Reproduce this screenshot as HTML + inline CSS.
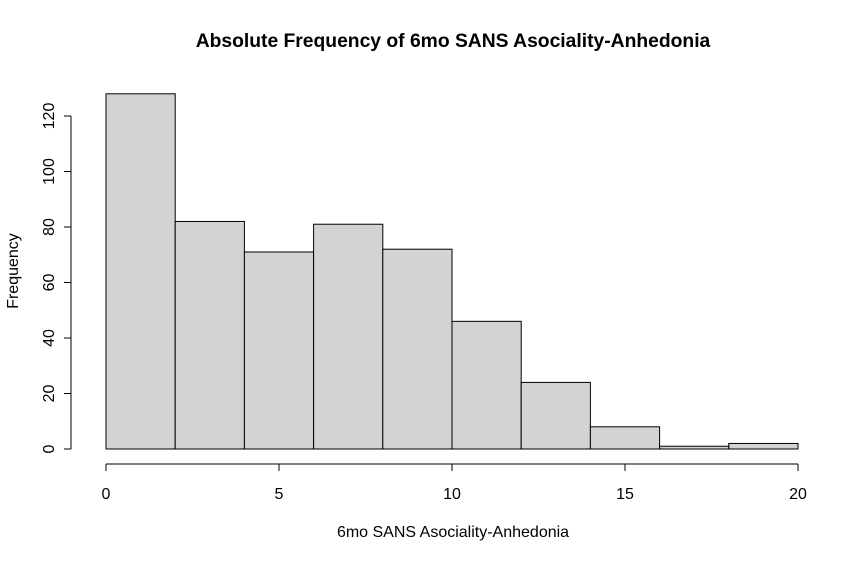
<!DOCTYPE html>
<html><head><meta charset="utf-8"><style>
body{margin:0;background:#fff;}
svg{display:block;font-family:"Liberation Sans",Arial,sans-serif;}
</style></head><body>
<svg id="chart" width="867" height="562" viewBox="0 0 867 562">
<text x="453" y="47" text-anchor="middle" font-size="19.3" font-weight="bold">Absolute Frequency of 6mo SANS Asociality-Anhedonia</text>
<text x="453" y="537" text-anchor="middle" font-size="16">6mo SANS Asociality-Anhedonia</text>
<text transform="translate(18,271) rotate(-90)" text-anchor="middle" font-size="16">Frequency</text>
<g id="bars"></g>
<g id="xaxis"></g>
<g id="yaxis"></g>
</svg>
<script>
const binEdges=[0,2,4,6,8,10,12,14,16,18,20];
const counts=[128,82,71,81,72,46,24,8,1,2];
const xTicks=[0,5,10,15,20];
const yTicks=[0,20,40,60,80,100,120];
const NS="http://www.w3.org/2000/svg";
const x=v=>106+v*(798-106)/20;
const y=v=>449-v*(449-116)/120;
function mk(tag,attrs,parent){const e=document.createElementNS(NS,tag);for(const k in attrs)e.setAttribute(k,attrs[k]);parent.appendChild(e);return e;}
const bars=document.getElementById('bars');
counts.forEach((c,i)=>{
 const r=mk('rect',{x:x(binEdges[i]),y:y(c),width:x(binEdges[i+1])-x(binEdges[i]),height:y(0)-y(c),fill:'#d3d3d3',stroke:'#000','stroke-width':1},bars);
 
 
});
const xa=document.getElementById('xaxis');
mk('line',{x1:x(xTicks[0]),x2:x(xTicks[xTicks.length-1]),y1:464,y2:464,stroke:'#000'},xa);
xTicks.forEach(t=>{
 mk('line',{x1:x(t),x2:x(t),y1:464,y2:471,stroke:'#000'},xa);
 const tx=mk('text',{x:x(t),y:499,'text-anchor':'middle','font-size':16},xa);
 tx.textContent=t;
 
 
});
const ya=document.getElementById('yaxis');
mk('line',{x1:71,x2:71,y1:y(yTicks[0]),y2:y(yTicks[yTicks.length-1]),stroke:'#000'},ya);
yTicks.forEach(t=>{
 mk('line',{x1:64,x2:71,y1:y(t),y2:y(t),stroke:'#000'},ya);
 const tx=mk('text',{transform:'translate(54,'+y(t)+') rotate(-90)','text-anchor':'middle','font-size':16},ya);
 tx.textContent=t;
 
 
});
</script>
</body></html>
